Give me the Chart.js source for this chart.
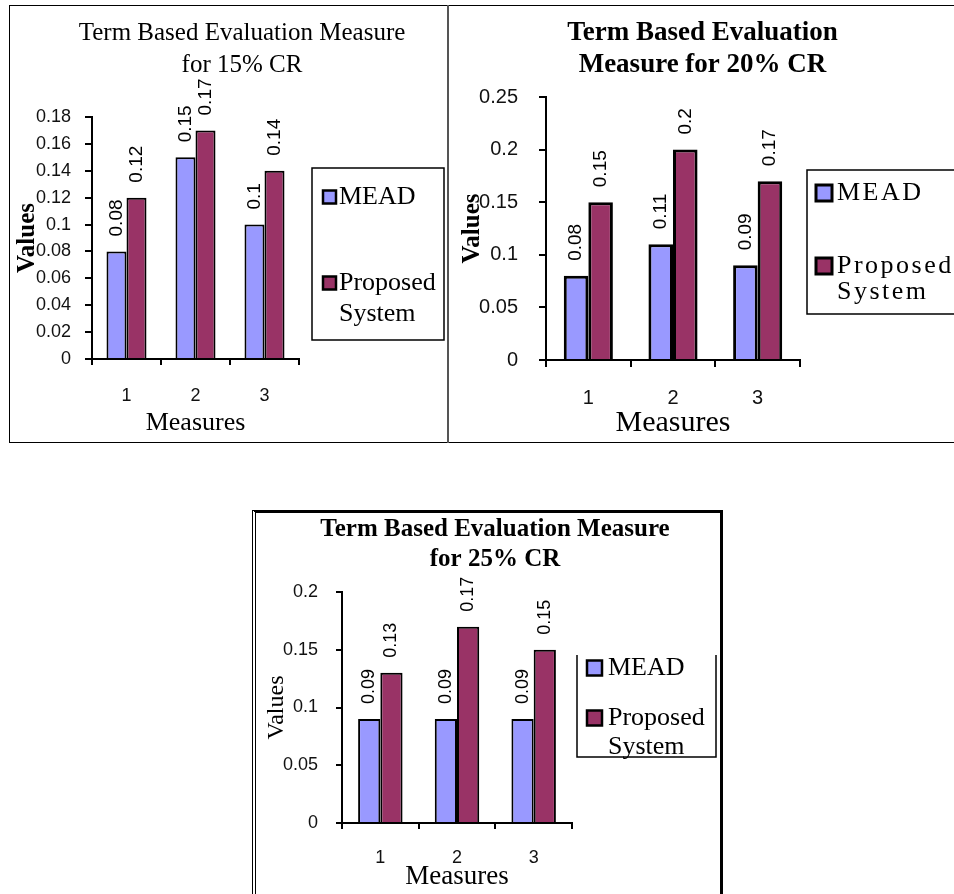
<!DOCTYPE html>
<html>
<head>
<meta charset="utf-8">
<script src="https://cdn.jsdelivr.net/npm/chart.js@4.4.0/dist/chart.umd.min.js"></script>
<style>
  body { margin: 0; background: #fff; }
  #page { position: relative; width: 954px; height: 894px; overflow: hidden; }
  canvas { position: absolute; }
  .frame { position: absolute; box-sizing: border-box; pointer-events: none; }
</style>
</head>
<body>
<div id="page">
  <canvas id="c15" style="left:10px;top:6px"></canvas>
  <canvas id="c20" style="left:451px;top:6px"></canvas>
  <canvas id="c25" style="left:256px;top:513px"></canvas>
  <div class="frame" style="left:9px;top:5px;width:945px;height:438px;border:1px solid #000;border-right:none"></div>
  <div class="frame" style="left:447px;top:5px;width:2px;height:438px;background:#555"></div>
  <div class="frame" style="left:252px;top:510px;width:471px;height:400px;border-top:3px solid #000;border-right:3px solid #000;border-left:4px double #000"></div>
</div>
<script>
// data
const measures = ['1', '2', '3'];
const seriesNames = ['MEAD', 'Proposed System'];

const mead15 = [0.08, 0.15, 0.1];
const proposed15 = [0.12, 0.17, 0.14];
const mead20 = [0.08, 0.11, 0.09];
const proposed20 = [0.15, 0.2, 0.17];
const mead25 = [0.09, 0.09, 0.09];
const proposed25 = [0.13, 0.17, 0.15];

const yMax15 = 0.18, yStep15 = 0.02;
const yMax20 = 0.25, yStep20 = 0.05;
const yMax25 = 0.2, yStep25 = 0.05;

const MEAD_COLOR = '#9999FF';
const PROP_COLOR = '#993366';
const SERIF = '"Liberation Serif", "Times New Roman", serif';
const SANS = '"Liberation Sans", Arial, sans-serif';

// rotated value labels above each bar
const valueLabels = {
  id: 'valueLabels',
  afterDatasetsDraw(chart, args, opts) {
    const ctx = chart.ctx;
    ctx.save();
    ctx.font = opts.size + 'px ' + SANS;
    ctx.fillStyle = '#000';
    ctx.textAlign = 'left';
    ctx.textBaseline = 'middle';
    chart.data.datasets.forEach((ds, i) => {
      chart.getDatasetMeta(i).data.forEach((bar, j) => {
        ctx.save();
        ctx.translate(bar.x, bar.y - opts.gap);
        ctx.rotate(-Math.PI / 2);
        ctx.fillText(String(ds.data[j]), 0, 0);
        ctx.restore();
      });
    });
    ctx.restore();
  }
};

// boxed legend on the right, like the old Excel one.
// it reserves its column through the layout so the title stays full width
const boxLegend = {
  id: 'boxLegend',
  start(chart, args, opts) {
    const box = {
      position: 'right', weight: 1000, fullSize: false,
      options: { position: 'right', weight: 1000, fullSize: false },
      left: 0, top: 0, right: 0, bottom: 0, width: 0, height: 0,
      isHorizontal() { return false; },
      update(maxW, maxH) { this.width = opts.reserve; this.height = maxH; },
      getPadding() { return { top: 0, left: 0, right: 0, bottom: 0 }; },
      draw() {}
    };
    Chart.layouts.addBox(chart, box);
  },
  afterDraw(chart, args, o) {
    const ctx = chart.ctx;
    const b = o.box;
    ctx.save();
    ctx.strokeStyle = '#000';
    ctx.lineWidth = 1.5;
    ctx.beginPath();
    if (o.noTop) {
      ctx.moveTo(b.x, b.y);
      ctx.lineTo(b.x, b.y + b.h);
      ctx.lineTo(b.x + b.w, b.y + b.h);
      ctx.lineTo(b.x + b.w, b.y);
    } else {
      ctx.rect(b.x, b.y, b.w, b.h);
    }
    ctx.stroke();

    ctx.font = o.font;
    ctx.letterSpacing = (o.spacing || 0) + 'px';
    ctx.textAlign = 'left';
    ctx.textBaseline = 'middle';
    const maxW = b.x + b.w - o.textX - 4;

    chart.data.datasets.forEach((ds, i) => {
      const y = o.rows[i];
      ctx.fillStyle = ds.backgroundColor;
      ctx.fillRect(o.markX, y - o.mark / 2, o.mark, o.mark);
      ctx.lineWidth = o.markBorder;
      ctx.strokeStyle = '#000';
      ctx.strokeRect(o.markX, y - o.mark / 2, o.mark, o.mark);

      // wrap words that do not fit
      const lines = [];
      let cur = '';
      ds.label.split(' ').forEach(w => {
        const t = cur ? cur + ' ' + w : w;
        if (cur && ctx.measureText(t).width > maxW) {
          lines.push(cur);
          cur = w;
        } else {
          cur = t;
        }
      });
      lines.push(cur);

      ctx.fillStyle = '#000';
      lines.forEach((t, k) => ctx.fillText(t, o.textX, y + k * o.lineGap));
    });
    ctx.restore();
  }
};

function makeChart(id, p) {
  const canvas = document.getElementById(id);
  canvas.width = p.width;
  canvas.height = p.height;

  return new Chart(canvas, {
    type: 'bar',
    data: {
      labels: measures,
      datasets: [
        { label: seriesNames[0], data: p.mead, backgroundColor: MEAD_COLOR,
          borderColor: '#000', borderWidth: p.barBorder, borderSkipped: 'bottom' },
        { label: seriesNames[1], data: p.proposed, backgroundColor: PROP_COLOR,
          borderColor: '#000', borderWidth: p.barBorder, borderSkipped: 'bottom' }
      ]
    },
    options: {
      responsive: false,
      animation: false,
      datasets: { bar: { categoryPercentage: 0.58, barPercentage: 1 } },
      layout: { padding: 0 },
      plugins: {
        legend: { display: false },
        tooltip: { enabled: false },
        title: {
          display: true,
          text: p.title,
          color: '#000',
          font: { family: SERIF, size: p.titleSize, weight: p.titleWeight, lineHeight: p.titleLine },
          padding: { top: p.titleTop, bottom: p.titleBottom }
        },
        valueLabels: { size: p.labelSize, gap: 15 },
        boxLegend: Object.assign({ reserve: p.padRight }, p.legend)
      },
      scales: {
        x: {
          grid: { offset: true, drawOnChartArea: false, color: '#000', lineWidth: 2, tickLength: p.xTickLen },
          border: { color: '#000', width: 2 },
          ticks: { color: '#111', font: { family: SANS, size: p.tickSize }, padding: p.xPad },
          title: {
            display: true, text: 'Measures', color: '#000',
            font: { family: SERIF, size: p.xTitleSize },
            padding: { top: 0, bottom: p.xTitlePad }
          },
          afterFit: s => { s.height = p.xHeight; }
        },
        y: {
          min: 0,
          max: p.yMax,
          grid: { drawOnChartArea: false, color: '#000', lineWidth: 2, tickLength: p.yTickLen },
          border: { color: '#000', width: 2 },
          ticks: {
            stepSize: p.yStep,
            color: '#111',
            font: { family: SANS, size: p.tickSize },
            padding: p.yPad,
            callback: v => String(+v.toFixed(2))
          },
          title: {
            display: true, text: 'Values', color: '#000',
            font: { family: SERIF, size: p.yTitleSize, weight: p.yTitleWeight },
            padding: { top: p.yTitlePad, bottom: 0 }
          },
          afterFit: s => { s.width = p.yWidth; }
        }
      }
    },
    plugins: [valueLabels, boxLegend]
  });
}

makeChart('c15', {
  width: 464, height: 435,
  mead: mead15, proposed: proposed15, yMax: yMax15, yStep: yStep15,
  title: ['Term Based Evaluation Measure', 'for 15% CR'],
  titleSize: 25, titleWeight: 'normal', titleLine: '32px', titleTop: 11, titleBottom: 36,
  padRight: 175, yWidth: 82, xHeight: 82,
  tickSize: 18, yPad: 14, yTickLen: 7, xPad: 20, xTickLen: 6,
  xTitleSize: 26, xTitlePad: 2, yTitleSize: 25, yTitleWeight: 'bold', yTitlePad: 3,
  labelSize: 19, barBorder: 2,
  legend: {
    box: { x: 302, y: 162, w: 132, h: 172 },
    markX: 313, mark: 13, markBorder: 2.5, textX: 329,
    rows: [191, 277], lineGap: 31, font: '26px ' + SERIF
  }
});

makeChart('c20', {
  width: 503, height: 435,
  mead: mead20, proposed: proposed20, yMax: yMax20, yStep: yStep20,
  title: ['Term Based Evaluation', 'Measure for 20% CR'],
  titleSize: 27, titleWeight: 'bold', titleLine: '32px', titleTop: 11, titleBottom: 16,
  padRight: 154, yWidth: 95, xHeight: 81,
  tickSize: 20, yPad: 21, yTickLen: 7, xPad: 19, xTickLen: 7,
  xTitleSize: 30, xTitlePad: 0, yTitleSize: 25, yTitleWeight: 'bold', yTitlePad: 7,
  labelSize: 19, barBorder: 3,
  legend: {
    box: { x: 356, y: 164, w: 170, h: 144 },
    markX: 365, mark: 16, markBorder: 3, textX: 386,
    rows: [187, 260], lineGap: 26, font: '26px ' + SERIF, spacing: 2.5
  }
});

makeChart('c25', {
  width: 478, height: 381,
  mead: mead25, proposed: proposed25, yMax: yMax25, yStep: yStep25,
  title: ['Term Based Evaluation Measure', 'for 25% CR'],
  titleSize: 25, titleWeight: 'bold', titleLine: '30px', titleTop: 2, titleBottom: 17,
  padRight: 162, yWidth: 86, xHeight: 71,
  tickSize: 18, yPad: 18, yTickLen: 6, xPad: 18, xTickLen: 6,
  xTitleSize: 27, xTitlePad: 1, yTitleSize: 24, yTitleWeight: 'normal', yTitlePad: 6,
  labelSize: 18, barBorder: 2,
  legend: {
    box: { x: 321, y: 142, w: 139, h: 102 }, noTop: true,
    markX: 331, mark: 15, markBorder: 2.5, textX: 352,
    rows: [155, 205], lineGap: 29, font: '26px ' + SERIF
  }
});
</script>
</body>
</html>
